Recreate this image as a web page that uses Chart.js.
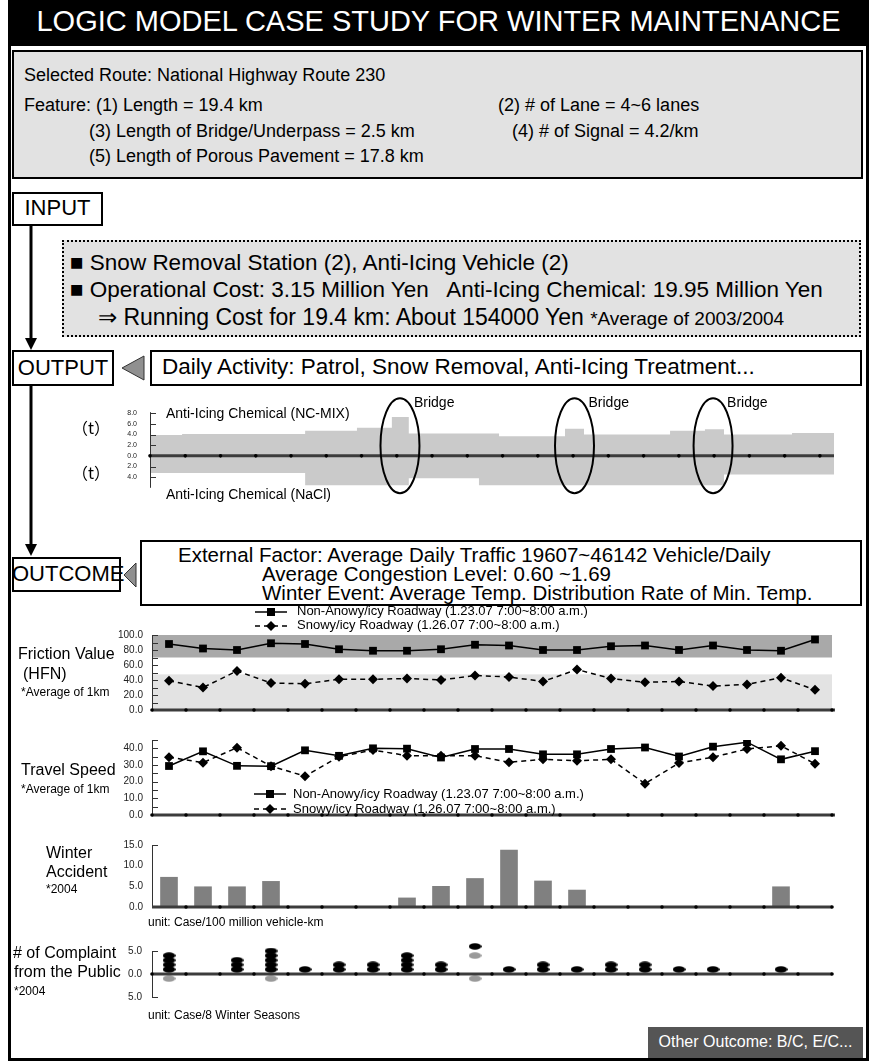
<!DOCTYPE html>
<html><head><meta charset="utf-8">
<script src="https://cdn.jsdelivr.net/npm/chart.js@4.4.0/dist/chart.umd.min.js"></script>
<style>
html,body{margin:0;padding:0;background:#fff;}
body{width:872px;height:1061px;position:relative;overflow:hidden;font-family:"Liberation Sans",Arial,sans-serif;color:#000;}
.a{position:absolute;white-space:nowrap;line-height:1.15;}
.box{position:absolute;box-sizing:border-box;border:2px solid #000;}
canvas{position:absolute;left:0;}
</style></head><body>

<!-- frame + title -->
<div class="box" style="left:8px;top:0;width:861px;height:1061px;border-width:3px;"></div>
<div style="position:absolute;left:8px;top:0;width:861px;height:46px;background:#000;"></div>
<div class="a" style="left:8px;width:861px;top:5px;font-size:29px;color:#fff;text-align:center;">LOGIC MODEL CASE STUDY FOR WINTER MAINTENANCE</div>

<!-- route box -->
<div class="box" style="left:12px;top:50px;width:851px;height:129px;background:#e2e2e2;"></div>
<div class="a" style="left:24px;top:65px;font-size:18px;">Selected Route: National Highway Route 230</div>
<div class="a" style="left:24px;top:95px;font-size:18px;">Feature: (1) Length = 19.4 km</div>
<div class="a" style="left:498px;top:95px;font-size:18px;">(2) # of Lane = 4~6 lanes</div>
<div class="a" style="left:89px;top:121px;font-size:18px;">(3) Length of Bridge/Underpass = 2.5 km</div>
<div class="a" style="left:512px;top:121px;font-size:18px;">(4) # of Signal = 4.2/km</div>
<div class="a" style="left:89px;top:146px;font-size:18px;">(5) Length of Porous Pavement = 17.8 km</div>

<!-- INPUT -->
<div class="box" style="left:12px;top:192px;width:91px;height:34px;background:#fff;"></div>
<div class="a" style="left:12px;width:91px;top:195px;font-size:22px;text-align:center;">INPUT</div>

<div class="box" style="left:62px;top:240px;width:799px;height:97px;background:#e2e2e2;border-style:dotted;"></div>
<div class="a" style="left:70px;top:250px;font-size:22.5px;">■ Snow Removal Station (2), Anti-Icing Vehicle (2)</div>
<div class="a" style="left:70px;top:277px;font-size:22.5px;">■ Operational Cost: 3.15 Million Yen&nbsp;&nbsp; Anti-Icing Chemical: 19.95 Million Yen</div>
<div class="a" style="left:98px;top:304px;font-size:23px;">⇒ Running Cost for 19.4 km: About 154000 Yen <span style="font-size:19px;">*Average of 2003/2004</span></div>

<!-- OUTPUT -->
<div class="box" style="left:12px;top:350px;width:102px;height:36px;background:#fff;"></div>
<div class="a" style="left:12px;width:102px;top:355px;font-size:22px;text-align:center;">OUTPUT</div>
<svg style="position:absolute;left:118px;top:353px;" width="30" height="30"><polygon points="4,15 26,3 26,27" fill="#909090" stroke="#333" stroke-width="1"/></svg>
<div class="box" style="left:150px;top:350px;width:712px;height:36px;background:#fff;"></div>
<div class="a" style="left:162px;top:354px;font-size:22.5px;">Daily Activity: Patrol, Snow Removal, Anti-Icing Treatment...</div>

<!-- OUTCOME -->
<div class="box" style="left:12px;top:557px;width:109px;height:35px;background:#fff;"></div>
<div class="a" style="left:12px;width:109px;top:561px;font-size:22px;text-align:center;">OUTCOME</div>
<svg style="position:absolute;left:121px;top:560px;" width="18" height="30"><polygon points="3,15 15,3 15,27" fill="#909090" stroke="#333" stroke-width="1"/></svg>
<div class="box" style="left:140px;top:540px;width:722px;height:66px;background:#fff;"></div>
<div class="a" style="left:178px;top:543px;font-size:20.5px;">External Factor: Average Daily Traffic 19607~46142 Vehicle/Daily</div>
<div class="a" style="left:262px;top:562px;font-size:20.5px;">Average Congestion Level: 0.60 ~1.69</div>
<div class="a" style="left:262px;top:581px;font-size:20.5px;">Winter Event: Average Temp. Distribution Rate of Min. Temp.</div>

<!-- arrows -->
<svg style="position:absolute;left:20px;top:226px;" width="22" height="340">
  <line x1="11" y1="0" x2="11" y2="114" stroke="#000" stroke-width="3"/>
  <polygon points="5,112 17,112 11,124" fill="#000"/>
  <line x1="11" y1="160" x2="11" y2="320" stroke="#000" stroke-width="3"/>
  <polygon points="5,318 17,318 11,330" fill="#000"/>
</svg>

<canvas id="cIce" width="872" height="110" style="top:395px;"></canvas>
<canvas id="cFric" width="872" height="105" style="top:620px;"></canvas>
<canvas id="cSpeed" width="872" height="105" style="top:725px;"></canvas>
<canvas id="cAcc" width="872" height="92" style="top:830px;"></canvas>
<canvas id="cComp" width="872" height="78" style="top:935px;"></canvas>

<!-- anti-icing labels -->
<div class="a" style="left:72px;top:419px;font-size:16px;font-family:'Noto Sans CJK JP';line-height:1;">（t）</div>
<div class="a" style="left:72px;top:464px;font-size:16px;font-family:'Noto Sans CJK JP';line-height:1;">（t）</div>
<div class="a" style="left:166px;top:405px;font-size:14px;">Anti-Icing Chemical (NC-MIX)</div>
<div class="a" style="left:166px;top:486px;font-size:14px;">Anti-Icing Chemical (NaCl)</div>

<!-- friction legend + labels -->
<svg style="position:absolute;left:253px;top:606px;" width="36" height="28">
  <line x1="2" y1="6" x2="34" y2="6" stroke="#000" stroke-width="1.5"/><rect x="14" y="2" width="8" height="8" fill="#000"/>
  <line x1="2" y1="20" x2="34" y2="20" stroke="#000" stroke-width="1.5" stroke-dasharray="5,4"/><polygon points="18,15 23,20 18,25 13,20" fill="#000"/>
</svg>
<div class="a" style="left:297px;top:604px;font-size:13px;">Non-Anowy/icy Roadway (1.23.07 7:00~8:00 a.m.)</div>
<div class="a" style="left:297px;top:618px;font-size:13px;">Snowy/icy Roadway (1.26.07 7:00~8:00 a.m.)</div>
<div class="a" style="left:18px;top:645px;font-size:16px;">Friction Value</div>
<div class="a" style="left:23px;top:665px;font-size:16px;">(HFN)</div>
<div class="a" style="left:21px;top:686px;font-size:12px;">*Average of 1km</div>

<!-- speed legend + labels -->
<svg style="position:absolute;left:252px;top:788px;" width="36" height="28">
  <line x1="2" y1="6" x2="34" y2="6" stroke="#000" stroke-width="1.5"/><rect x="14" y="2" width="8" height="8" fill="#000"/>
  <line x1="2" y1="21" x2="34" y2="21" stroke="#000" stroke-width="1.5" stroke-dasharray="5,4"/><polygon points="18,16 23,21 18,26 13,21" fill="#000"/>
</svg>
<div class="a" style="left:293px;top:787px;font-size:13px;">Non-Anowy/icy Roadway (1.23.07 7:00~8:00 a.m.)</div>
<div class="a" style="left:293px;top:802px;font-size:13px;">Snowy/icy Roadway (1.26.07 7:00~8:00 a.m.)</div>
<div class="a" style="left:21px;top:761px;font-size:16px;">Travel Speed</div>
<div class="a" style="left:21px;top:783px;font-size:12px;">*Average of 1km</div>

<!-- accident labels -->
<div class="a" style="left:46px;top:844px;font-size:16px;">Winter</div>
<div class="a" style="left:46px;top:863px;font-size:16px;">Accident</div>
<div class="a" style="left:46px;top:883px;font-size:12px;">*2004</div>
<div class="a" style="left:148px;top:916px;font-size:12px;">unit: Case/100 million vehicle-km</div>

<!-- complaint labels -->
<div class="a" style="left:13px;top:944px;font-size:16px;">#&nbsp;of Complaint</div>
<div class="a" style="left:14px;top:963px;font-size:16px;">from the Public</div>
<div class="a" style="left:14px;top:985px;font-size:12px;">*2004</div>
<div class="a" style="left:148px;top:1009px;font-size:12px;">unit: Case/8 Winter Seasons</div>

<div style="position:absolute;left:648px;top:1027px;width:215px;height:31px;background:#555;"></div>
<div class="a" style="left:648px;width:215px;top:1033px;font-size:16px;color:#fff;text-align:center;">Other Outcome: B/C, E/C...</div>

<script>
// ---------------- DATA ----------------
// Anti-icing chemical amount (t) per section, section start km (last = route end)
const ncMixKm = [0, 0.91, 4.40, 5.87, 6.86, 7.34, 9.90, 11.77, 12.31, 14.75, 15.74, 16.28, 18.21, 19.4];
const ncMixTons = [3.9, 4.1, 4.7, 5.3, 7.3, 4.2, 3.7, 5.1, 4.0, 4.7, 5.0, 4.0, 4.3];
const naclKm = [0, 4.40, 7.34, 9.33, 16.28, 19.4];
const naclTons = [3.2, 5.5, 4.2, 5.5, 3.5];
const bridgeKm = [7.09, 12.04, 15.97];
const iceTicks = [8, 6, 4, 2, 0, -2, -4];

// 1-km sections
const sections = ['1','2','3','4','5','6','7','8','9','10','11','12','13','14','15','16','17','18','19','20'];

// Friction value (HFN)
const frictionDry  = [88, 82, 80, 89, 88, 81, 79, 79, 81, 87, 86, 80, 80, 85, 86, 80, 86, 80, 79, 94];
const frictionSnow = [39, 30, 52, 36, 35, 41, 41, 42, 40, 46, 44, 38, 54, 42, 37, 38, 32, 34, 43, 27];
const frictionBands = [[70, 100, '#a9a9a9'], [0, 47.5, '#e3e3e3']];

// Travel speed
const speedDry  = [29.4, 38.2, 29.5, 29.3, 38.8, 35.5, 40.0, 39.8, 34.5, 39.6, 39.6, 36.4, 36.4, 39.6, 40.5, 35.1, 41.0, 43.7, 33.4, 38.3];
const speedSnow = [34.7, 31.4, 40.4, 29.3, 23.3, 35.0, 39.0, 35.6, 35.5, 35.6, 31.6, 33.4, 32.5, 33.4, 18.8, 31.2, 34.7, 39.6, 41.5, 30.7];

// Winter accident 2004
const accidents = [7.2, 4.9, 4.9, 6.2, 0, 0, 0, 2.2, 5.0, 6.9, 13.8, 6.3, 4.1, 0, 0, 0, 0, 0, 4.9, 0];

// Complaints from the public (dots = cases)
const complaintBlack = [4, 0, 3, 5, 1, 2, 2, 4, 2, 0, 1, 2, 1, 2, 2, 1, 1, 0, 1, 0];
const complaintBlackExtra = [{x: 9, y: 6}];
const complaintGrayAbove = [{x: 9, y: 4}];
const complaintGrayBelow = [1, 0, 0, 1, 0, 0, 0, 0, 0, 1, 0, 0, 0, 0, 0, 0, 0, 0, 0, 0];

// ---------------- HELPERS ----------------
Chart.defaults.font.family = '"Liberation Sans", Arial, sans-serif';
Chart.defaults.color = '#000';

function yAxis(min, max, step, fontSize, pad, width, cb, extra) {
  return Object.assign({
    min, max,
    afterFit: s => { s.width = width; },
    grid: {display: false, drawTicks: false},
    border: {display: false},
    ticks: {stepSize: step, padding: pad, font: {size: fontSize}, color: '#222',
            callback: cb || (v => Math.abs(v).toFixed(1))}
  }, extra || {});
}

function decoPlugin(opts) {
  return {
    id: 'deco',
    beforeDatasetsDraw(chart) {
      const {ctx, chartArea: ca, scales} = chart;
      const y = scales.y;
      if (opts.bands) {
        opts.bands.forEach(b => {
          ctx.fillStyle = b[2];
          const y1 = y.getPixelForValue(b[1]), y0 = y.getPixelForValue(b[0]);
          ctx.fillRect(ca.left, y1, ca.right - ca.left, y0 - y1);
        });
      }
    },
    afterDatasetsDraw(chart) {
      const {ctx, chartArea: ca, scales} = chart;
      const y = scales.y, x = scales.x;
      ctx.save();
      ctx.strokeStyle = '#333'; ctx.lineWidth = 1;
      ctx.beginPath();
      ctx.moveTo(ca.left + 0.5, ca.top); ctx.lineTo(ca.left + 0.5, ca.bottom);
      opts.bracketTicks.forEach(v => {
        const py = Math.round(y.getPixelForValue(v)) + 0.5;
        ctx.moveTo(ca.left, py); ctx.lineTo(ca.left + 6, py);
      });
      ctx.stroke();
      const by = y.getPixelForValue(0);
      ctx.strokeStyle = '#3c3c3c'; ctx.lineWidth = 3;
      ctx.beginPath(); ctx.moveTo(ca.left, by); ctx.lineTo(ca.right + (opts.extendRight || 0), by); ctx.stroke();
      ctx.fillStyle = '#000';
      opts.dotValues.forEach(v => {
        const px = x.getPixelForValue(v);
        ctx.beginPath(); ctx.arc(px, by, 1.8, 0, Math.PI * 2); ctx.fill();
      });
      ctx.restore();
    }
  };
}

const boundaries = [];
for (let i = 0; i <= sections.length; i++) boundaries.push(i - 0.5);

function baseOpts(padL, padR, padT, padB) {
  return {
    responsive: false, animation: false, devicePixelRatio: 1,
    layout: {padding: {left: padL, right: padR, top: padT, bottom: padB}},
    plugins: {legend: {display: false}, tooltip: {enabled: false}}
  };
}

function steps(km, vals, sign) {
  return km.map((k, i) => ({x: k, y: sign * vals[Math.min(i, vals.length - 1)]}));
}

// ---------------- ANTI-ICING ----------------
(function () {
  const o = baseOpts(150 - 60, 872 - 834, 13, 13);
  o.scales = {
    x: {type: 'linear', min: 0, max: 19.4, display: false},
    y: yAxis(-6, 8.2, 2, 7, 13, 60, v => Math.abs(v).toFixed(1),
      {afterBuildTicks: s => { s.ticks = iceTicks.map(v => ({value: v})); }})
  };
  const kmDots = [];
  for (let k = 0; k < 20; k++) kmDots.push(k);
  const ellipses = {
    id: 'bridges',
    afterDatasetsDraw(chart) {
      const {ctx, scales} = chart;
      ctx.save();
      bridgeKm.forEach(k => {
        const cx = scales.x.getPixelForValue(k);
        const cy = scales.y.getPixelForValue(1.9);
        ctx.strokeStyle = '#000'; ctx.lineWidth = 2;
        ctx.beginPath(); ctx.ellipse(cx, cy, 19.5, 47.5, 0, 0, Math.PI * 2); ctx.stroke();
        ctx.fillStyle = '#000'; ctx.font = '14px "Liberation Sans", Arial';
        ctx.textBaseline = 'middle';
        ctx.fillText('Bridge', cx + 14, cy - 43);
      });
      ctx.restore();
    }
  };
  new Chart(document.getElementById('cIce'), {
    type: 'line',
    data: {datasets: [
      {data: steps(ncMixKm, ncMixTons, 1), stepped: 'before', fill: 'origin', backgroundColor: '#cacaca', borderWidth: 0, pointRadius: 0},
      {data: steps(naclKm, naclTons, -1), stepped: 'before', fill: 'origin', backgroundColor: '#cacaca', borderWidth: 0, pointRadius: 0}
    ]},
    options: o,
    plugins: [decoPlugin({bracketTicks: iceTicks, dotValues: kmDots}), ellipses]
  });
})();

// ---------------- FRICTION ----------------
function sectionX() { return {type: 'linear', min: -0.5, max: sections.length - 0.5, display: false}; }
function pts(arr) { return arr.map((v, i) => ({x: i, y: v})); }

(function () {
  const o = baseOpts(152 - 60, 872 - 832, 14, 12);
  o.scales = {x: sectionX(), y: yAxis(0, 100, 20, 10, 9, 60)};
  new Chart(document.getElementById('cFric'), {
    type: 'line',
    data: {datasets: [
      {data: pts(frictionDry), borderColor: '#000', borderWidth: 1.5, pointStyle: 'rect', pointRadius: 5.5, pointBackgroundColor: '#000', pointBorderWidth: 0},
      {data: pts(frictionSnow), borderColor: '#000', borderWidth: 1.5, borderDash: [5, 4], pointStyle: 'rectRot', pointRadius: 5, pointBackgroundColor: '#000', pointBorderWidth: 0}
    ]},
    options: o,
    plugins: [decoPlugin({bands: frictionBands, bracketTicks: [0,10,20,30,40,50,60,70,80,90,100], dotValues: boundaries, extendRight: 3})]
  });
})();

// ---------------- SPEED ----------------
(function () {
  const o = baseOpts(152 - 60, 872 - 832, 10, 11);
  o.scales = {x: sectionX(), y: yAxis(0, 45, 10, 10, 9, 60, null,
    {afterBuildTicks: s => { s.ticks = [0,10,20,30,40].map(v => ({value: v})); }})};
  new Chart(document.getElementById('cSpeed'), {
    type: 'line',
    data: {datasets: [
      {data: pts(speedDry), borderColor: '#000', borderWidth: 1.5, pointStyle: 'rect', pointRadius: 5.5, pointBackgroundColor: '#000', pointBorderWidth: 0},
      {data: pts(speedSnow), borderColor: '#000', borderWidth: 1.5, borderDash: [5, 4], pointStyle: 'rectRot', pointRadius: 5, pointBackgroundColor: '#000', pointBorderWidth: 0}
    ]},
    options: o,
    plugins: [decoPlugin({bracketTicks: [0,5,10,15,20,25,30,35,40,45], dotValues: boundaries, extendRight: 3})]
  });
})();

// ---------------- ACCIDENT ----------------
(function () {
  const o = baseOpts(152 - 60, 872 - 832, 10, 11);
  o.scales = {
    x: {type: 'category', offset: true, display: false},
    y: yAxis(0, 15, 5, 10, 9, 60)
  };
  const catPlugin = decoPlugin({bracketTicks: [15], dotValues: []});
  const dots = {
    id: 'catdots',
    afterDatasetsDraw(chart) {
      const {ctx, scales} = chart;
      const by = scales.y.getPixelForValue(0);
      ctx.save(); ctx.fillStyle = '#000';
      for (let i = 0; i < sections.length; i++) {
        const px = (scales.x.getPixelForValue(i) + (i + 1 < sections.length ? scales.x.getPixelForValue(i + 1) : 2 * scales.x.getPixelForValue(i) - scales.x.getPixelForValue(i - 1))) / 2;
        ctx.beginPath(); ctx.arc(px, by, 1.8, 0, Math.PI * 2); ctx.fill();
      }
      ctx.restore();
    }
  };
  new Chart(document.getElementById('cAcc'), {
    type: 'bar',
    data: {labels: sections, datasets: [{data: accidents, backgroundColor: '#808080', barThickness: 17}]},
    options: o,
    plugins: [catPlugin, dots]
  });
})();

// ---------------- COMPLAINT ----------------
(function () {
  function dotImg(color) {
    const c = document.createElement('canvas');
    c.width = 13; c.height = 7;
    const g = c.getContext('2d');
    g.fillStyle = color; g.beginPath(); g.ellipse(6.5, 3.5, 6.3, 3.3, 0, 0, Math.PI * 2); g.fill();
    return c;
  }
  const black = [], gray = [];
  complaintBlack.forEach((n, i) => { for (let k = 1; k <= n; k++) black.push({x: i, y: k}); });
  complaintBlackExtra.forEach(p => black.push(p));
  complaintGrayAbove.forEach(p => gray.push(p));
  complaintGrayBelow.forEach((n, i) => { for (let k = 1; k <= n; k++) gray.push({x: i, y: -k}); });
  const o = baseOpts(152 - 60, 872 - 832, 10, 10);
  o.scales = {x: sectionX(), y: yAxis(-5, 5, 5, 10, 10, 60)};
  new Chart(document.getElementById('cComp'), {
    type: 'scatter',
    data: {datasets: [
      {data: black, pointStyle: dotImg('#000'), clip: false},
      {data: gray, pointStyle: dotImg('#9a9a9a'), clip: false}
    ]},
    options: o,
    plugins: [decoPlugin({bracketTicks: [5, -5], dotValues: boundaries})]
  });
})();
</script>
</body></html>
